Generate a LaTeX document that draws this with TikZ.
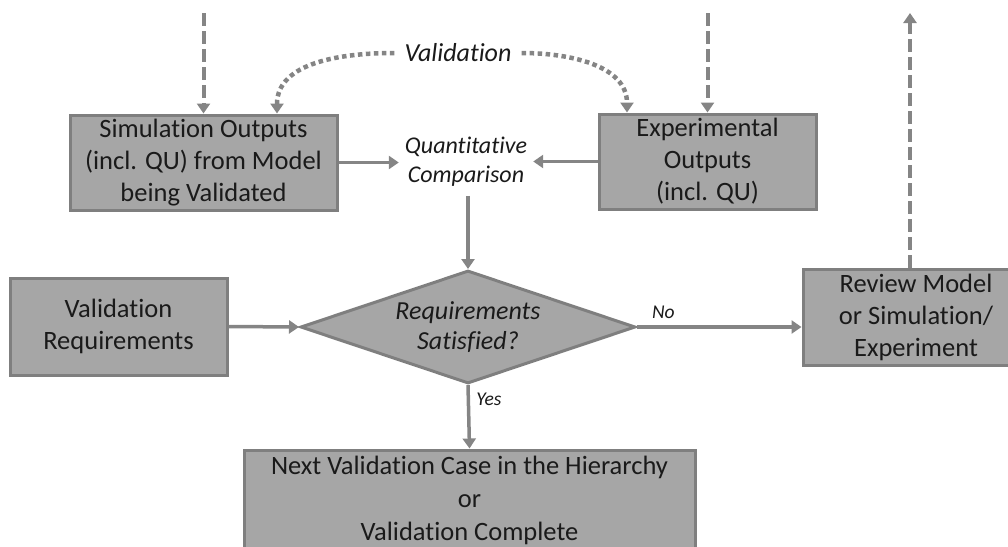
\documentclass[tikz,border=0pt]{standalone}
\usepackage{fontspec}
\setmainfont{Carlito}[Ligatures={NoCommon,NoRare,NoContextual},RawFeature={-liga;-clig;-calt;-dlig}]
\usetikzlibrary{shapes.geometric,arrows.meta}
\definecolor{boxfill}{HTML}{A6A6A6}
\definecolor{boxline}{HTML}{7F7F7F}
\definecolor{arrowgrey}{HTML}{858585}
\definecolor{inktext}{HTML}{1A1A1A}
\begin{document}
\begin{tikzpicture}[x=1pt,y=-1pt,
  every node/.style={text=inktext},
  box/.style={draw=boxline, line width=3pt, fill=boxfill, inner sep=0pt,
    align=center, font=\fontsize{26.5}{32}\selectfont},
  decision/.style={diamond, draw=boxline, line width=3pt, fill=boxfill,
    inner sep=0pt, aspect=2.96, minimum width=335pt, minimum height=113pt,
    align=center, font=\fontsize{26}{30}\selectfont\itshape},
  tip/.style={-{Triangle[length=10pt,width=13pt]}},
  flow/.style={draw=arrowgrey, line width=3.5pt, tip},
  dashflow/.style={draw=arrowgrey, line width=4pt, dash pattern=on 13pt off 5pt, tip},
  dotflow/.style={draw=arrowgrey, line width=4.5pt, dash pattern=on 4.5pt off 3.5pt, tip},
  branch/.style={font=\fontsize{19.5}{22}\selectfont\itshape}]
\useasboundingbox (0,0) rectangle (1008,546);

% process boxes
\node[box, minimum width=267pt, minimum height=95pt] (sim) at (203.5,162.5)
  {Simulation Outputs\\(incl. QU) from Model\\being Validated};
\node[box, minimum width=217pt, minimum height=95pt] (exp) at (707.5,161.5)
  {Experimental\\Outputs\\(incl. QU)};
\node[box, minimum width=217pt, minimum height=97pt] (vreq) at (118.5,326.5)
  {Validation\\Requirements};
\node[box, minimum width=226pt, minimum height=96pt] (review) at (916,317)
  {Review Model\\or Simulation/\\Experiment};
\node[box, minimum width=451pt, minimum height=100pt,
  font=\fontsize{26.5}{33}\selectfont] (next) at (469.5,500)
  {Next Validation Case in the Hierarchy\\or\\Validation Complete};

% decision
\node[decision] (dec) at (468,327) {Requirements\\Satisfied?};

% free-standing labels
\node[font=\fontsize{24}{29}\selectfont\itshape, align=center,
  inner xsep=6pt, inner ysep=9pt] (qc) at (466,162) {Quantitative\\Comparison};
\node[font=\fontsize{26}{30}\selectfont\itshape, inner xsep=10pt] (val) at (458,53) {Validation};

% open ends of the dashed connectors
\coordinate (simin) at (203.5,13);
\coordinate (expin) at (707.5,13);
\coordinate (revout) at (910,13);

% solid connectors
\draw[flow] (sim.east) -- (sim.east -| qc.west);
\draw[flow] (exp.west) -- (exp.west -| qc.east);
\draw[flow] (qc.south -| dec.north) -- (dec.north);
\draw[flow] (vreq.east) -- (dec.west);
\draw[flow] (dec.east) -- node[branch, pos=0.16, above=3pt] {No} (dec.east -| review.west);
\draw[flow] (dec.south) -- node[branch, pos=0.22, right=3pt] {Yes} (next.north);

% dashed connectors
\draw[dashflow] (simin) -- (sim.north);
\draw[dashflow] (expin) -- (exp.north);
\draw[dashflow] ([xshift=-6pt]review.north) -- (revout);

% dotted validation links
\draw[dotflow] (val.west) to[out=180, in=90] ([xshift=73.5pt]sim.north);
\draw[dotflow] (val.east) to[out=0, in=90] ([xshift=-80.5pt]exp.north);
\end{tikzpicture}
\end{document}
